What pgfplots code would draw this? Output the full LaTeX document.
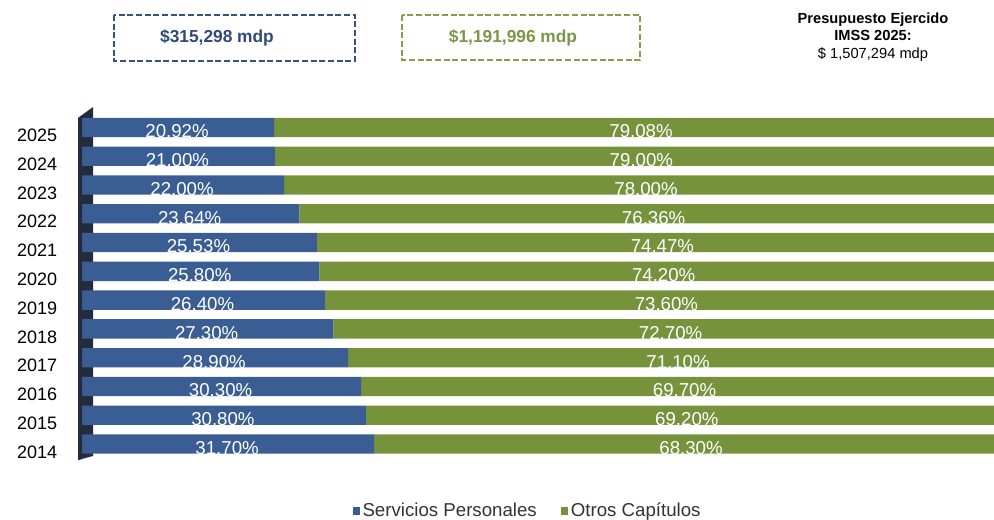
\documentclass[border=0pt]{standalone}
\usepackage{pgfplots}
\pgfplotsset{compat=1.18}
\usepackage{pgfplotstable}
\usepackage{fontspec}
\setmainfont{Liberation Sans}
\definecolor{sp}{HTML}{3A5E94}
\definecolor{oc}{HTML}{76933C}
\definecolor{wall}{HTML}{232C3D}
\definecolor{boxblue}{HTML}{3A5180}
\definecolor{boxbluetext}{HTML}{2F4A7A}
\definecolor{boxgreen}{HTML}{8A9E4C}
\definecolor{boxgreentext}{HTML}{7A9646}
\definecolor{textgray}{HTML}{333333}

\pgfplotstableread{
idx year sp oc
0 2014 31.70 68.30
1 2015 30.80 69.20
2 2016 30.30 69.70
3 2017 28.90 71.10
4 2018 27.30 72.70
5 2019 26.40 73.60
6 2020 25.80 74.20
7 2021 25.53 74.47
8 2022 23.64 76.36
9 2023 22.00 78.00
10 2024 21.00 79.00
11 2025 20.92 79.08
}\data

\begin{document}
\begin{tikzpicture}
\useasboundingbox (0,0) rectangle (745.5pt,389.25pt);
\begin{scope}[x=0.75pt,y=-0.75pt,yshift=389.25pt]
  \fill[wall] (78,460) -- (78,118) -- (93,107) -- (93,456) -- cycle;
  \draw[boxblue, line width=1.8pt, dash pattern=on 4.5pt off 2pt] (114,15) rectangle (355,61);
  \node[text=boxbluetext, font=\bfseries\fontsize{13}{15}\selectfont] at (217,38) {\$315,298 mdp};
  \draw[boxgreen, line width=1.8pt, dash pattern=on 4.5pt off 2pt] (402,15) rectangle (640,60);
  \node[text=boxgreentext, font=\bfseries\fontsize{13}{15}\selectfont] at (513,38) {\$1,191,996 mdp};
  \node[align=center, font=\fontsize{11}{13}\selectfont] at (873,37) {\textbf{Presupuesto Ejercido}\\\textbf{IMSS 2025:}\\\$ 1,507,294 mdp};
\end{scope}

\begin{axis}[
  at={(60pt,45.45pt)}, anchor=south west,
  scale only axis, width=685.5pt, height=259pt,
  xbar stacked, bar width=14.5pt,
  xmin=0, xmax=98.5, ymin=-0.5, ymax=11.5,
  axis line style={draw=none},
  xtick=\empty,
  ytick={0,...,11},
  yticklabels={2014,2015,2016,2017,2018,2019,2020,2021,2022,2023,2024,2025},
  ytick style={draw=none},
  yticklabel style={font=\fontsize{13.5}{16}\selectfont, text=black, anchor=east, inner sep=0pt, xshift=-17pt, yshift=-6pt},
  legend style={at={(0.49,-0.151)}, anchor=center, draw=none, fill=none,
    legend columns=2, font=\fontsize{14}{16}\selectfont, text=textgray,
    /tikz/every even column/.append style={column sep=16pt}},
  legend image code/.code={\fill[#1] (1pt,-3.5pt) rectangle (6.5pt,3pt);},
]
\addplot[fill=sp, draw=none] table[x=sp, y=idx] {\data};
\addplot[fill=oc, draw=none] table[x=oc, y=idx] {\data};
\legend{Servicios Personales, Otros Capítulos}
\end{axis}

\begin{axis}[
  at={(60pt,45.45pt)}, anchor=south west,
  scale only axis, width=685.5pt, height=259pt,
  xmin=0, xmax=98.5, ymin=-0.5, ymax=11.5,
  hide axis,
  /pgf/number format/assume math mode=true,
  point meta=explicit,
  nodes near coords={\pgfmathprintnumber[fixed,fixed zerofill,precision=2]{\pgfplotspointmeta}\%},
  every node near coord/.append style={anchor=center, text=white, font=\fontsize{14}{16}\selectfont, yshift=-3pt},
]
\addplot[only marks, mark=none] table[x expr=\thisrow{sp}/2, y=idx, meta=sp] {\data};
\addplot[only marks, mark=none] table[x expr=(100+\thisrow{sp})/2, y=idx, meta=oc] {\data};
\end{axis}

\begin{scope}[x=0.75pt,y=-0.75pt,yshift=389.25pt]
  \fill[wall] (78,460) -- (78,118) -- (82,115.5) -- (82,459) -- cycle;
\end{scope}
\end{tikzpicture}
\end{document}
